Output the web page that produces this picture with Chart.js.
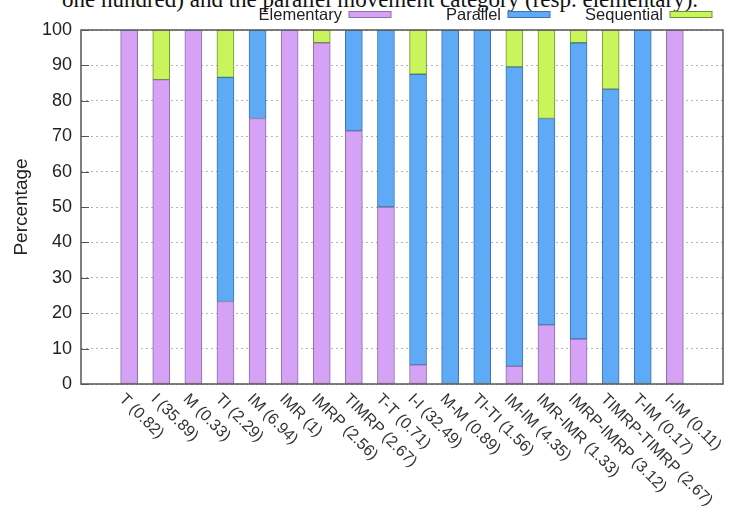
<!DOCTYPE html>
<html>
<head>
<meta charset="utf-8">
<title>Movement categories</title>
<script src="https://cdn.jsdelivr.net/npm/chart.js@4.4.0/dist/chart.umd.min.js"></script>
<style>
  body { margin: 0; background: #fff; }
  #wrap { position: relative; width: 731px; height: 512px; overflow: hidden; }
  #caption {
    position: absolute; left: 62px; top: -12px;
    font: 23px "Liberation Serif", "Times New Roman", serif;
    line-height: 23px; white-space: nowrap; color: #111;
  }
  canvas { position: absolute; left: 0; top: 0; }
</style>
</head>
<body>
<div id="wrap">
  <div id="caption">one hundred) and the parallel movement category (resp. elementary).</div>
  <canvas id="mycanvas" width="731" height="512"></canvas>
</div>
<script>
// categories (share of each in brackets)
var categories = ['T (0.82)', 'I (35.89)', 'M (0.33)', 'TI (2.29)', 'IM (6.94)', 'IMR (1)',
  'IMRP (2.56)', 'TIMRP (2.67)', 'T-T (0.71)', 'I-I (32.49)', 'M-M (0.89)', 'TI-TI (1.56)',
  'IM-IM (4.35)', 'IMR-IMR (1.33)', 'IMRP-IMRP (3.12)', 'TIMRP-TIMRP (2.67)', 'T-IM (0.17)', 'I-IM (0.11)'];

var seriesNames = ['Elementary', 'Parallel', 'Sequential'];

var elementary = [100, 86, 100, 23.3, 75, 100, 96.4, 71.5, 50, 5.4, 0, 0, 5, 16.7, 12.7, 0, 0, 100];
var parallel   = [0, 0, 0, 63.3, 25, 0, 0, 28.5, 50, 82.1, 100, 100, 84.6, 58.3, 83.7, 83.3, 100, 0];
var sequential = [0, 14, 0, 13.4, 0, 0, 3.6, 0, 0, 12.5, 0, 0, 10.4, 25, 3.6, 16.7, 0, 0];

var yTicks = [0, 10, 20, 30, 40, 50, 60, 70, 80, 90, 100];

var fills   = ['#d5a2f5', '#5eaaf7', '#c9f55c'];
var borders = ['#8f6fa6', '#3f73a8', '#74902f'];

function points(arr) {
  return arr.map(function(v, i) { return { x: i, y: v === 0 ? null : v }; });
}

var seriesData = [elementary, parallel, sequential];
var datasets = [];
for (var s = 0; s < seriesNames.length; s++) {
  datasets.push({
    label: seriesNames[s],
    data: points(seriesData[s]),
    backgroundColor: fills[s],
    borderColor: borders[s],
    borderWidth: 1,
    borderSkipped: false,
    barThickness: 17
  });
}

// frame, inner ticks, rotated category labels and the gnuplot-style key
var decor = {
  id: 'decor',
  afterDraw: function(chart) {
    var ctx = chart.ctx, a = chart.chartArea, xs = chart.scales.x, ys = chart.scales.y;
    ctx.save();
    ctx.strokeStyle = '#555';
    ctx.lineWidth = 1.5;
    ctx.strokeRect(a.left, a.top, a.right - a.left, a.bottom - a.top);

    ctx.lineWidth = 1;
    ctx.beginPath();
    yTicks.forEach(function(v) {
      var y = Math.round(ys.getPixelForValue(v)) + 0.5;
      ctx.moveTo(a.left, y);
      ctx.lineTo(a.left + 8, y);
    });
    ctx.stroke();

    ctx.fillStyle = '#333';
    ctx.font = '16px "Liberation Sans", Arial, sans-serif';
    ctx.textAlign = 'left';
    ctx.textBaseline = 'top';
    for (var i = 0; i < categories.length; i++) {
      var x = xs.getPixelForValue(i);
      ctx.save();
      ctx.translate(x - 2, a.bottom + 7);
      ctx.rotate(Math.PI / 4);
      ctx.fillText(categories[i], 0, 0);
      ctx.restore();
    }

    var ends = [342, 501, 663];
    ctx.font = '16.5px "Liberation Sans", Arial, sans-serif';
    ctx.textAlign = 'right';
    ctx.textBaseline = 'alphabetic';
    for (var k = 0; k < seriesNames.length; k++) {
      ctx.fillStyle = '#222';
      ctx.fillText(seriesNames[k], ends[k], 20);
      ctx.fillStyle = fills[k];
      ctx.fillRect(ends[k] + 7, 11.5, 42, 6);
      ctx.strokeStyle = borders[k];
      ctx.lineWidth = 1;
      ctx.strokeRect(ends[k] + 7, 11.5, 42, 6);
    }
    ctx.restore();
  }
};

var ctx = document.getElementById('mycanvas');
var barGraph = new Chart(ctx, {
  type: 'bar',
  data: { datasets: datasets },
  options: {
    responsive: false,
    animation: false,
    layout: { padding: { left: 0, top: 30, right: 8, bottom: 128 } },
    plugins: {
      legend: { display: false },
      tooltip: { enabled: false }
    },
    scales: {
      x: {
        type: 'linear',
        stacked: true,
        offset: false,
        min: -1.5,
        max: 18.5,
        grid: { display: false },
        border: { display: false },
        ticks: { display: false },
        afterFit: function(scale) { scale.height = 0; }
      },
      y: {
        stacked: true,
        min: 0,
        max: 100,
        afterBuildTicks: function(scale) {
          scale.ticks = yTicks.map(function(v) { return { value: v }; });
        },
        afterFit: function(scale) { scale.width = 81; },
        grid: {
          color: '#b5b5b5',
          lineWidth: 1,
          drawTicks: false
        },
        border: { display: false, dash: [2, 3] },
        ticks: {
          padding: 9,
          color: '#222',
          font: { family: '"Liberation Sans", Arial, sans-serif', size: 18 }
        },
        title: {
          display: true,
          text: 'Percentage',
          color: '#222',
          padding: { top: 10, bottom: 0 },
          font: { family: '"Liberation Sans", Arial, sans-serif', size: 19 }
        }
      }
    }
  },
  plugins: [decor]
});
</script>
</body>
</html>
